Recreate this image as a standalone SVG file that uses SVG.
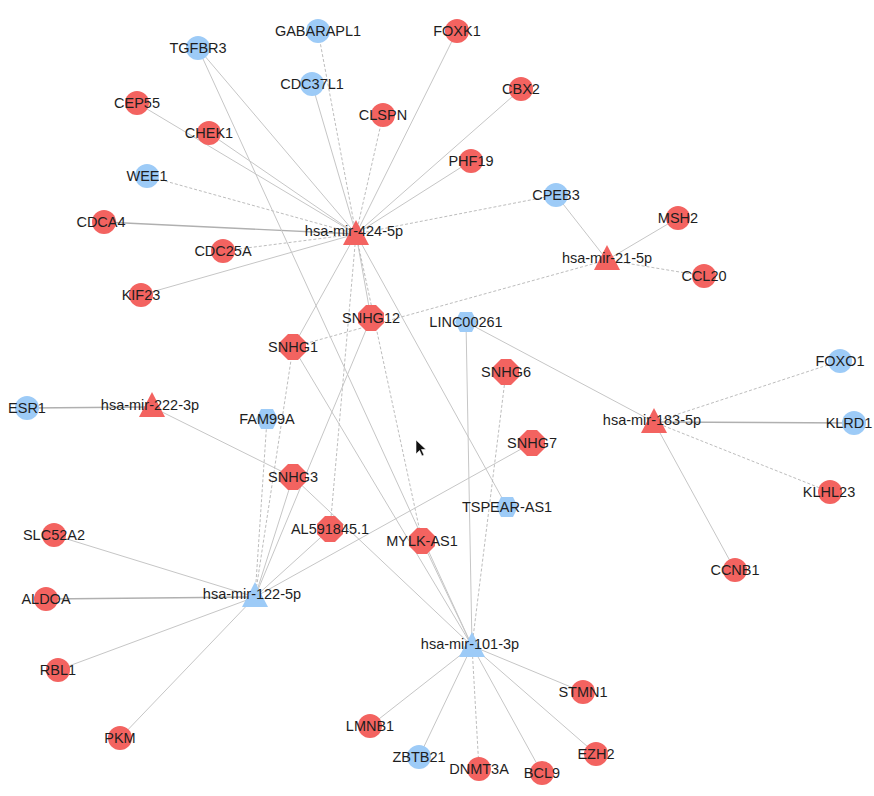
<svg xmlns="http://www.w3.org/2000/svg" width="874" height="796" viewBox="0 0 874 796">
<style>
.e{stroke:#c6c6c6;stroke-width:1;fill:none}
.d{stroke:#bdbdbd;stroke-width:1;stroke-dasharray:3 2;fill:none}
.k{stroke:#b0b0b0;stroke-width:1.4;fill:none}
.r{fill:#F36360}
.b{fill:#9DCBF7}
text{font-family:"Liberation Sans",Arial,sans-serif;font-size:14.5px;fill:#1e1e1e;text-anchor:middle;dominant-baseline:central}
</style>
<defs>
<circle id="c" r="12"/>
<polygon id="o" points="-5,-13 5,-13 13,-5 13,5 5,13 -5,13 -13,5 -13,-5"/>
<polygon id="h" points="-11,0 -6,-10 6,-10 11,0 6,10 -6,10"/>
<polygon id="t" points="0,-14 13,11 -13,11"/>
</defs>
<rect width="874" height="796" fill="#fff"/>
<g id="connectors">
<line class="e" x1="356" y1="234" x2="198" y2="48"/>
<line class="d" x1="356" y1="234" x2="318" y2="31"/>
<line class="e" x1="356" y1="234" x2="312" y2="84"/>
<line class="e" x1="356" y1="234" x2="457" y2="31"/>
<line class="e" x1="356" y1="234" x2="521" y2="89"/>
<line class="d" x1="356" y1="234" x2="383" y2="115"/>
<line class="e" x1="356" y1="234" x2="471" y2="161"/>
<line class="d" x1="356" y1="234" x2="556" y2="195"/>
<line class="e" x1="356" y1="234" x2="137" y2="103"/>
<line class="e" x1="356" y1="234" x2="209" y2="133"/>
<line class="d" x1="356" y1="234" x2="147" y2="176"/>
<line class="k" x1="356" y1="234" x2="104" y2="222"/>
<line class="d" x1="356" y1="234" x2="223" y2="251"/>
<line class="e" x1="356" y1="234" x2="141" y2="295"/>
<line class="e" x1="356" y1="234" x2="293" y2="347"/>
<line class="e" x1="356" y1="234" x2="371" y2="318"/>
<line class="d" x1="356" y1="234" x2="330" y2="529"/>
<line class="d" x1="356" y1="234" x2="422" y2="541"/>
<line class="e" x1="356" y1="234" x2="507" y2="507"/>
<line class="e" x1="607" y1="260" x2="556" y2="195"/>
<line class="e" x1="607" y1="260" x2="678" y2="218"/>
<line class="d" x1="607" y1="260" x2="704" y2="276"/>
<line class="d" x1="607" y1="260" x2="293" y2="347"/>
<line class="e" x1="654" y1="422" x2="466" y2="322"/>
<line class="d" x1="654" y1="422" x2="840" y2="361"/>
<line class="k" x1="654" y1="422" x2="854" y2="423"/>
<line class="d" x1="654" y1="422" x2="830" y2="492"/>
<line class="e" x1="654" y1="422" x2="735" y2="570"/>
<line class="k" x1="152" y1="407" x2="27" y2="408"/>
<line class="e" x1="152" y1="407" x2="293" y2="477"/>
<line class="d" x1="255" y1="597" x2="267" y2="419"/>
<line class="d" x1="255" y1="597" x2="293" y2="347"/>
<line class="e" x1="255" y1="597" x2="293" y2="477"/>
<line class="e" x1="255" y1="597" x2="371" y2="318"/>
<line class="e" x1="255" y1="597" x2="330" y2="529"/>
<line class="e" x1="255" y1="597" x2="532" y2="443"/>
<line class="e" x1="255" y1="597" x2="54" y2="535"/>
<line class="k" x1="255" y1="597" x2="46" y2="599"/>
<line class="e" x1="255" y1="597" x2="58" y2="670"/>
<line class="e" x1="255" y1="597" x2="120" y2="738"/>
<line class="e" x1="472" y1="646" x2="198" y2="48"/>
<line class="e" x1="472" y1="646" x2="293" y2="347"/>
<line class="e" x1="472" y1="646" x2="293" y2="477"/>
<line class="e" x1="472" y1="646" x2="422" y2="541"/>
<line class="e" x1="472" y1="646" x2="466" y2="322"/>
<line class="d" x1="472" y1="646" x2="506" y2="372"/>
<line class="e" x1="472" y1="646" x2="583" y2="692"/>
<line class="e" x1="472" y1="646" x2="596" y2="754"/>
<line class="e" x1="472" y1="646" x2="542" y2="773"/>
<line class="d" x1="472" y1="646" x2="479" y2="769"/>
<line class="e" x1="472" y1="646" x2="419" y2="757"/>
<line class="e" x1="472" y1="646" x2="370" y2="726"/>
</g>
<g id="GABARAPL1"><use href="#c" class="b" x="318" y="31"/><text x="318" y="31">GABARAPL1</text></g>
<g id="TGFBR3"><use href="#c" class="b" x="198" y="48"/><text x="198" y="48">TGFBR3</text></g>
<g id="FOXK1"><use href="#c" class="r" x="457" y="31"/><text x="457" y="31">FOXK1</text></g>
<g id="CDC37L1"><use href="#c" class="b" x="312" y="84"/><text x="312" y="84">CDC37L1</text></g>
<g id="CBX2"><use href="#c" class="r" x="521" y="89"/><text x="521" y="89">CBX2</text></g>
<g id="CEP55"><use href="#c" class="r" x="137" y="103"/><text x="137" y="103">CEP55</text></g>
<g id="CLSPN"><use href="#c" class="r" x="383" y="115"/><text x="383" y="115">CLSPN</text></g>
<g id="CHEK1"><use href="#c" class="r" x="209" y="133"/><text x="209" y="133">CHEK1</text></g>
<g id="PHF19"><use href="#c" class="r" x="471" y="161"/><text x="471" y="161">PHF19</text></g>
<g id="WEE1"><use href="#c" class="b" x="147" y="176"/><text x="147" y="176">WEE1</text></g>
<g id="CPEB3"><use href="#c" class="b" x="556" y="195"/><text x="556" y="195">CPEB3</text></g>
<g id="CDCA4"><use href="#c" class="r" x="104" y="222"/><text x="101" y="222">CDCA4</text></g>
<g id="CDC25A"><use href="#c" class="r" x="223" y="251"/><text x="223" y="251">CDC25A</text></g>
<g id="MSH2"><use href="#c" class="r" x="678" y="218"/><text x="678" y="218">MSH2</text></g>
<g id="CCL20"><use href="#c" class="r" x="704" y="276"/><text x="704" y="276">CCL20</text></g>
<g id="KIF23"><use href="#c" class="r" x="141" y="295"/><text x="141" y="295">KIF23</text></g>
<g id="FOXO1"><use href="#c" class="b" x="840" y="361"/><text x="840" y="361">FOXO1</text></g>
<g id="ESR1"><use href="#c" class="b" x="27" y="408"/><text x="27" y="408">ESR1</text></g>
<g id="KLRD1"><use href="#c" class="b" x="854" y="423"/><text x="849" y="423">KLRD1</text></g>
<g id="KLHL23"><use href="#c" class="r" x="830" y="492"/><text x="829" y="492">KLHL23</text></g>
<g id="SLC52A2"><use href="#c" class="r" x="54" y="535"/><text x="54" y="535">SLC52A2</text></g>
<g id="CCNB1"><use href="#c" class="r" x="735" y="570"/><text x="735" y="570">CCNB1</text></g>
<g id="ALDOA"><use href="#c" class="r" x="46" y="599"/><text x="46" y="599">ALDOA</text></g>
<g id="RBL1"><use href="#c" class="r" x="58" y="670"/><text x="58" y="670">RBL1</text></g>
<g id="PKM"><use href="#c" class="r" x="120" y="738"/><text x="120" y="738">PKM</text></g>
<g id="STMN1"><use href="#c" class="r" x="583" y="692"/><text x="583" y="692">STMN1</text></g>
<g id="LMNB1"><use href="#c" class="r" x="370" y="726"/><text x="370" y="726">LMNB1</text></g>
<g id="EZH2"><use href="#c" class="r" x="596" y="754"/><text x="596" y="754">EZH2</text></g>
<g id="ZBTB21"><use href="#c" class="b" x="419" y="757"/><text x="419" y="757">ZBTB21</text></g>
<g id="DNMT3A"><use href="#c" class="r" x="479" y="769"/><text x="479" y="769">DNMT3A</text></g>
<g id="BCL9"><use href="#c" class="r" x="542" y="773"/><text x="542" y="773">BCL9</text></g>
<g id="SNHG12"><use href="#o" class="r" x="371" y="318"/><text x="371" y="318">SNHG12</text></g>
<g id="LINC00261"><use href="#h" class="b" x="466" y="322"/><text x="466" y="322">LINC00261</text></g>
<g id="SNHG1"><use href="#o" class="r" x="293" y="347"/><text x="293" y="347">SNHG1</text></g>
<g id="SNHG6"><use href="#o" class="r" x="506" y="372"/><text x="506" y="372">SNHG6</text></g>
<g id="FAM99A"><use href="#h" class="b" x="267" y="419"/><text x="267" y="419">FAM99A</text></g>
<g id="SNHG7"><use href="#o" class="r" x="532" y="443"/><text x="532" y="443">SNHG7</text></g>
<g id="SNHG3"><use href="#o" class="r" x="293" y="477"/><text x="293" y="477">SNHG3</text></g>
<g id="TSPEAR-AS1"><use href="#h" class="b" x="507" y="507"/><text x="507" y="507">TSPEAR-AS1</text></g>
<g id="AL591845.1"><use href="#o" class="r" x="330" y="529"/><text x="330" y="529">AL591845.1</text></g>
<g id="MYLK-AS1"><use href="#o" class="r" x="422" y="541"/><text x="422" y="541">MYLK-AS1</text></g>
<g id="hsa-mir-424-5p"><use href="#t" class="r" x="356" y="234"/><text x="354" y="231">hsa-mir-424-5p</text></g>
<g id="hsa-mir-21-5p"><use href="#t" class="r" x="607" y="259"/><text x="607" y="258">hsa-mir-21-5p</text></g>
<g id="hsa-mir-183-5p"><use href="#t" class="r" x="654" y="422"/><text x="652" y="420">hsa-mir-183-5p</text></g>
<g id="hsa-mir-222-3p"><use href="#t" class="r" x="152" y="406"/><text x="150" y="405">hsa-mir-222-3p</text></g>
<g id="hsa-mir-122-5p"><use href="#t" class="b" x="255" y="596"/><text x="252" y="594">hsa-mir-122-5p</text></g>
<g id="hsa-mir-101-3p"><use href="#t" class="b" x="472" y="646"/><text x="470" y="644">hsa-mir-101-3p</text></g>
<path d="M416,440 L416,454 L419.5,450.5 L422,456 L424,455 L421.5,449.5 L426,449.5 Z" fill="#111" stroke="#fff" stroke-width="0.6"/>
</svg>
